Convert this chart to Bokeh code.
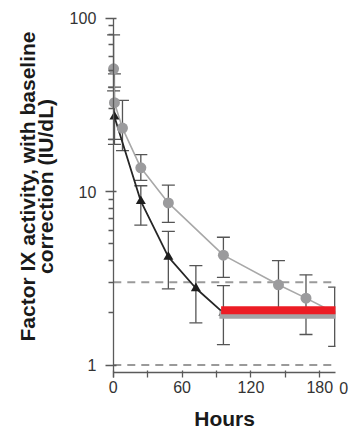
import numpy as np
from bokeh.plotting import figure
from bokeh.models import ColumnDataSource, Whisker, TeeHead, FixedTicker, Label, Range1d
from bokeh.embed import file_html
from bokeh.resources import INLINE

# ---- data ----
gray_hours = [0.25, 1, 8, 24, 48, 96, 144, 168, 193]
gray_mean = [51, 32.5, 23.2, 13.7, 8.6, 4.3, 2.9, 2.43, 2.0]
gray_upper = [80, 47.7, 33.5, 16.3, 10.9, 5.45, 4.0, 3.31, 2.81]
gray_lower = [38, 20, 17.2, 11.6, 6.65, 3.2, 1.9, 1.5, 1.28]

black_hours = [1, 24, 48, 72, 96]
black_mean = [27, 8.8, 4.2, 2.77, 2.0]
black_upper = [40, 10.8, 5.9, 3.74, 2.87]
black_lower = [18.7, 6.4, 2.75, 1.75, 1.31]

ref_levels = [1, 3]
red_bar_start = 94
red_bar_level = 2.07
gray_bar_start = 92.5
gray_bar_level = 1.95

x_ticks = [0, 60, 120, 180]
x_minor_ticks = [30, 90, 150]
y_ticks = [1, 10, 100]
y_minor_ticks = [2, 3, 4, 5, 6, 7, 8, 9, 20, 30, 40, 50, 60, 70, 80, 90]

# ---- layout (whole canvas is the frame; axes are placed inside it) ----
FONT = "Liberation Sans"
W, H = 353, 430
X0, X1 = -98.34, 209.42          # visible hour span across the canvas
Y0, Y1 = 0.4195, 126.2           # visible value span across the canvas
X_AXIS_END = 193.7               # where the hour axis stops
X_AXIS_AT = 0.909                # where the hour axis sits
CAP_HALF = 5.7                   # half cap width, in hours

p = figure(output_backend="svg", toolbar_location=None, width=W, height=H,
           x_range=Range1d(X0, X1), y_range=Range1d(Y0, Y1), y_axis_type="log",
           min_border=0)
p.outline_line_color = None
p.grid.visible = False
p.background_fill_color = "white"
p.border_fill_color = "white"

# reference dashed lines
for lv in ref_levels:
    p.line([0, X_AXIS_END], [lv, lv], line_color="#9a9a9a", line_width=2, line_dash="8 6")

# error bars (last gray one is cut by the axis end, so only its left caps show)
n_full = len(gray_hours) - 1
gsrc_err = ColumnDataSource(dict(x=gray_hours[:n_full], up=gray_upper[:n_full], lo=gray_lower[:n_full]))
bsrc = ColumnDataSource(dict(x=black_hours, y=black_mean, up=black_upper, lo=black_lower))
err_col = "#555555"
for src in (gsrc_err, bsrc):
    w = Whisker(base="x", upper="up", lower="lo", source=src,
                line_color=err_col, line_width=1.3,
                upper_head=TeeHead(size=13, line_color=err_col, line_width=1.3),
                lower_head=TeeHead(size=13, line_color=err_col, line_width=1.3))
    p.add_layout(w)
xl, hl, ll = gray_hours[-1], gray_upper[-1], gray_lower[-1]
p.segment(x0=[xl, xl - CAP_HALF, xl - CAP_HALF], y0=[ll, hl, ll],
          x1=[xl, X_AXIS_END, X_AXIS_END], y1=[hl, hl, ll],
          line_color=err_col, line_width=1.3)

# series lines and markers (black under gray)
gsrc = ColumnDataSource(dict(x=gray_hours, y=gray_mean))
gsrc_mk = ColumnDataSource(dict(x=gray_hours[:n_full], y=gray_mean[:n_full]))
p.line("x", "y", source=gsrc, line_color="#a8a8a8", line_width=1.6)
p.line("x", "y", source=bsrc, line_color="#262626", line_width=1.8)
p.scatter("x", "y", source=bsrc, marker="triangle", size=10, fill_color="#1e1e1e", line_color=None)
p.scatter("x", "y", source=gsrc_mk, marker="circle", size=11, fill_color="#9b9b9d", line_color=None)

# horizontal bars
p.line([gray_bar_start, X_AXIS_END], [gray_bar_level] * 2, line_color="#a3a3a5", line_width=8, line_cap="butt")
p.line([red_bar_start, X_AXIS_END], [red_bar_level] * 2, line_color="#ec1c24", line_width=8, line_cap="butt")

# axes
ax_col = "#5a5a5a"
p.xaxis.ticker = FixedTicker(ticks=x_ticks, minor_ticks=x_minor_ticks)
p.xaxis.bounds = (0, X_AXIS_END)
p.xaxis.fixed_location = X_AXIS_AT
p.yaxis.ticker = FixedTicker(ticks=y_ticks, minor_ticks=y_minor_ticks)
p.yaxis.bounds = (0.85, 100)
p.yaxis.major_label_overrides = {1: "1", 10: "10", 100: "100"}
p.yaxis.fixed_location = 0
for ax in (p.xaxis, p.yaxis):
    ax.axis_line_color = ax_col
    ax.axis_line_width = 1.3
    ax.major_tick_line_color = ax_col
    ax.minor_tick_line_color = ax_col
    ax.major_tick_line_width = 1.3
    ax.minor_tick_line_width = 1.3
    ax.major_label_text_font = FONT
    ax.major_label_text_font_size = "16px"
    ax.major_label_text_color = "#333333"
p.xaxis.major_tick_in = 2
p.xaxis.major_tick_out = 5
p.xaxis.minor_tick_in = 2
p.xaxis.minor_tick_out = 5
p.xaxis.major_label_standoff = 4
p.yaxis.major_tick_in = 3
p.yaxis.major_tick_out = 8
p.yaxis.minor_tick_in = 0
p.yaxis.minor_tick_out = 5
p.yaxis.major_label_standoff = 9

# axis titles as labels (data coordinates, vertically centred on the glyphs)
common = dict(text_font=FONT, text_font_style="bold", text_font_size="21px",
              text_color="#1a1a1a", text_align="center", text_baseline="middle")
p.add_layout(Label(x=-75.0, y=10.69, text="Factor IX activity, with baseline",
                   angle=np.pi / 2, **common))
p.add_layout(Label(x=-59.3, y=10.69, text="correction (IU/dL)",
                   angle=np.pi / 2, **common))
p.add_layout(Label(x=97.0, y=0.4915, text="Hours", **common))
p.add_layout(Label(x=200.96, y=0.737, text="0", text_font=FONT, text_font_size="16px",
                   text_color="#333333", text_align="center", text_baseline="middle"))

open("out.html", "w").write(file_html(p, INLINE))
